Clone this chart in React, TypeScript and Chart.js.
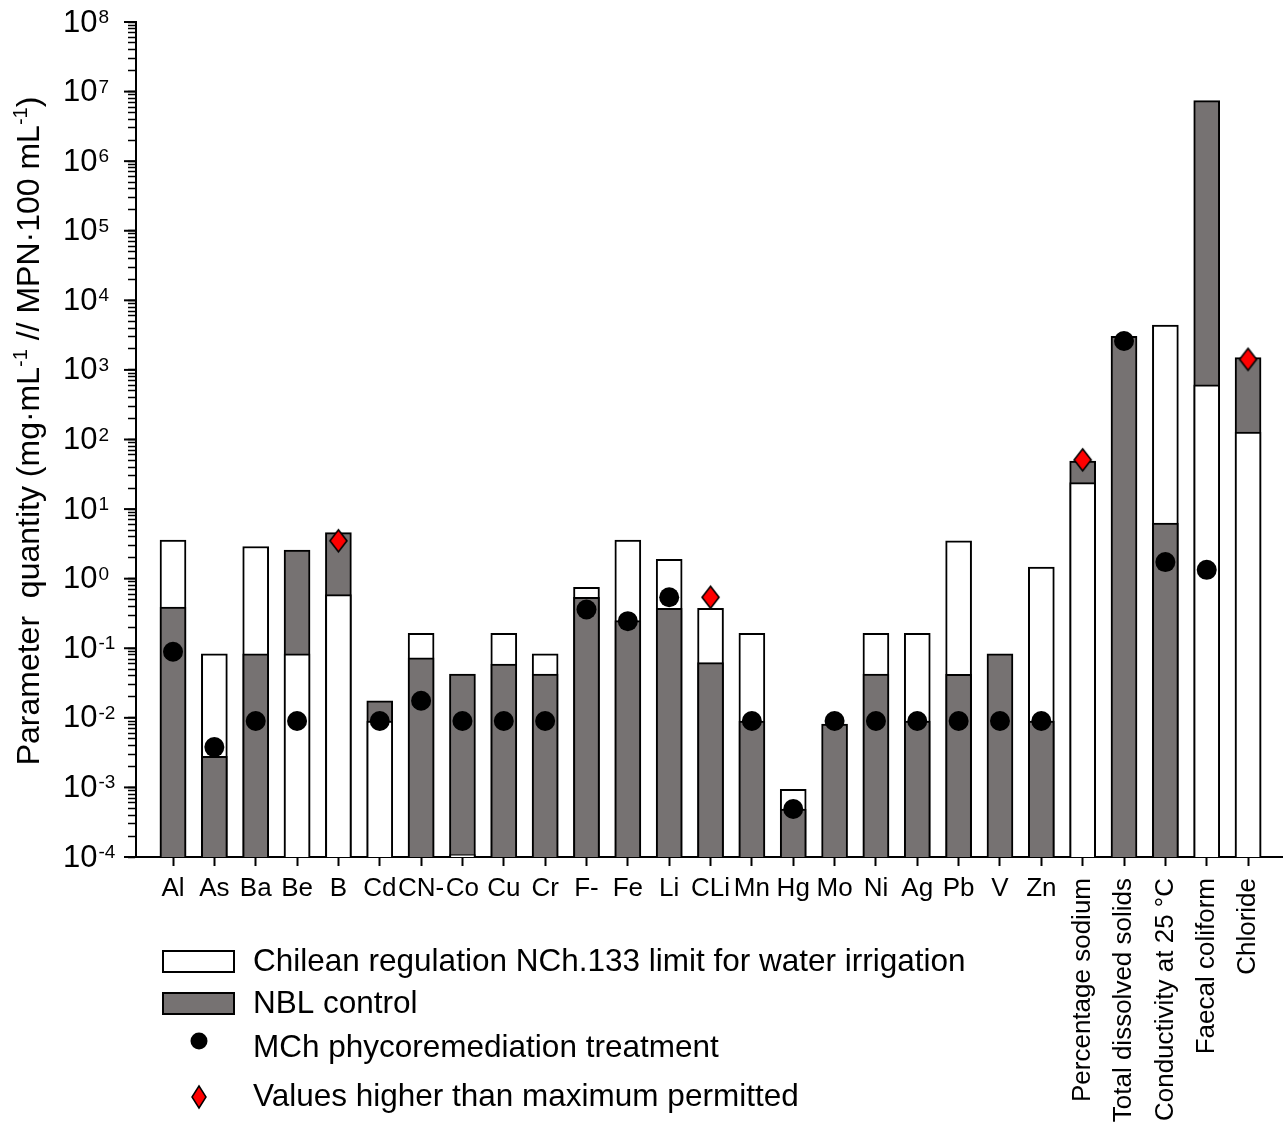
import React, { useEffect, useRef } from 'react';
import { Chart, registerables } from 'chart.js';

Chart.register(...registerables);

// ---------- data ----------
const categories = [
  'Al', 'As', 'Ba', 'Be', 'B', 'Cd', 'CN-', 'Co', 'Cu', 'Cr', 'F-', 'Fe', 'Li', 'CLi',
  'Mn', 'Hg', 'Mo', 'Ni', 'Ag', 'Pb', 'V', 'Zn',
  'Percentage sodium', 'Total dissolved solids', 'Conductivity at 25 °C', 'Faecal coliform', 'Chloride',
];

// Chilean regulation NCh.133 limit for water irrigation (white bars)
const limitValues: (number | null)[] = [
  3.6, 0.083, 2.9, 0.083, 0.59, 0.009, 0.164, 0.000108, 0.164, 0.083, 0.75, 3.6, 1.9, 0.375,
  0.164, 0.00094, null, 0.164, 0.164, 3.5, null, 1.47,
  24, null, 4400, 610, 128,
];

// NBL control (grey bars)
const nblValues: (number | null)[] = [
  0.39, 0.0028, 0.083, 2.58, 4.6, 0.0176, 0.073, 0.0427, 0.059, 0.0427, 0.54, 0.25, 0.375, 0.062,
  0.009, 0.00049, 0.0081, 0.0427, 0.009, 0.0423, 0.083, 0.009,
  49, 3030, 6.3, 7.4e6, 1510,
];

// MCh phycoremediation treatment (black dots)
const mchValues: (number | null)[] = [
  0.089, 0.0038, 0.009, 0.009, null, 0.009, 0.0176, 0.009, 0.009, 0.009, 0.36, 0.245, 0.54, null,
  0.009, 0.00049, 0.009, 0.009, 0.009, 0.009, 0.009, 0.009,
  null, 2600, 1.73, 1.34, null,
];

// Values higher than maximum permitted (red diamonds)
const exceedValues: (number | null)[] = [
  null, null, null, null, 3.5, null, null, null, null, null, null, null, null, 0.54,
  null, null, null, null, null, null, null, null,
  51, null, null, null, 1420,
];

const yTickExponents = [-4, -3, -2, -1, 0, 1, 2, 3, 4, 5, 6, 7, 8];

const legendLabels = [
  'Chilean regulation NCh.133 limit for water irrigation',
  'NBL control',
  'MCh phycoremediation treatment',
  'Values higher than maximum permitted',
];

// ---------- style ----------
const WHITE = '#ffffff';
const GRAY = '#767272';
const RED = '#ff0000';
const FONT = '"Liberation Sans", Arial, Helvetica, sans-serif';

function makeDiamond(hw: number, hh: number): HTMLCanvasElement {
  const c = document.createElement('canvas');
  c.width = hw * 2 + 4;
  c.height = hh * 2 + 4;
  const g = c.getContext('2d')!;
  const cx = c.width / 2, cy = c.height / 2;
  g.beginPath();
  g.moveTo(cx, cy - hh);
  g.lineTo(cx + hw, cy);
  g.lineTo(cx, cy + hh);
  g.lineTo(cx - hw, cy);
  g.closePath();
  g.fillStyle = RED;
  g.fill();
  g.lineWidth = 1.6;
  g.strokeStyle = '#000';
  g.stroke();
  return c;
}

const textPlugin = {
  id: 'customText',
  afterDraw(chart: any) {
    const ctx: CanvasRenderingContext2D = chart.ctx;
    const xs = chart.scales.x;
    const ys = chart.scales.y;
    ctx.save();
    ctx.fillStyle = '#000';
    ctx.strokeStyle = '#000';

    // major y ticks + labels 10^n
    for (const e of yTickExponents) {
      const y = ys.getPixelForValue(Math.pow(10, e));
      ctx.lineWidth = 2;
      ctx.beginPath();
      ctx.moveTo(124, y);
      ctx.lineTo(137, y);
      ctx.stroke();
      ctx.font = `31px ${FONT}`;
      ctx.textAlign = 'left';
      ctx.textBaseline = 'middle';
      ctx.fillText('10', 63, y + 1);
      const w = ctx.measureText('10').width;
      ctx.font = `19px ${FONT}`;
      ctx.textBaseline = 'alphabetic';
      ctx.fillText(String(e), 63 + w + 1, y + 1);
    }

    // y axis title (rotated, with superscripts)
    const parts: [string, boolean][] = [
      ['Parameter  quantity (mg·mL', false],
      ['-1', true],
      [' // MPN·100 mL', false],
      ['-1', true],
      [')', false],
    ];
    const mainF = `32px ${FONT}`;
    const supF = `20px ${FONT}`;
    let total = 0;
    for (const [t, s] of parts) {
      ctx.font = s ? supF : mainF;
      total += ctx.measureText(t).width;
    }
    ctx.save();
    ctx.translate(39, 431 + total / 2);
    ctx.rotate(-Math.PI / 2);
    ctx.textAlign = 'left';
    ctx.textBaseline = 'alphabetic';
    let px = 0;
    for (const [t, s] of parts) {
      ctx.font = s ? supF : mainF;
      ctx.fillText(t, px, s ? -12 : 0);
      px += ctx.measureText(t).width;
    }
    ctx.restore();

    // x category labels
    ctx.font = `26px ${FONT}`;
    categories.forEach((lab, i) => {
      const x = xs.getPixelForValue(i);
      if (lab.length > 4) {
        ctx.save();
        ctx.translate(x, 878);
        ctx.rotate(-Math.PI / 2);
        ctx.textAlign = 'right';
        ctx.textBaseline = 'middle';
        ctx.fillText(lab, 0, 0);
        ctx.restore();
      } else {
        ctx.textAlign = 'center';
        ctx.textBaseline = 'middle';
        ctx.fillText(lab, x, 889);
      }
    });

    // legend
    ctx.lineWidth = 2;
    ctx.fillStyle = WHITE;
    ctx.fillRect(163, 951, 71, 21);
    ctx.strokeRect(163, 951, 71, 21);
    ctx.fillStyle = GRAY;
    ctx.fillRect(163, 993, 71, 21);
    ctx.strokeRect(163, 993, 71, 21);
    ctx.fillStyle = '#000';
    ctx.beginPath();
    ctx.arc(199, 1041, 8.5, 0, Math.PI * 2);
    ctx.fill();
    ctx.beginPath();
    ctx.moveTo(199, 1086);
    ctx.lineTo(206, 1097);
    ctx.lineTo(199, 1108);
    ctx.lineTo(192, 1097);
    ctx.closePath();
    ctx.fillStyle = RED;
    ctx.fill();
    ctx.lineWidth = 1.5;
    ctx.stroke();

    ctx.fillStyle = '#000';
    ctx.font = `31.5px ${FONT}`;
    ctx.textAlign = 'left';
    ctx.textBaseline = 'middle';
    const ly = [962, 1004, 1048, 1097];
    legendLabels.forEach((t, i) => ctx.fillText(t, 253, ly[i]));

    ctx.restore();
  },
};

export default function App() {
  const ref = useRef<HTMLCanvasElement>(null);

  useEffect(() => {
    if (!ref.current) return;

    const backData = categories.map((_, i) => {
      const l = limitValues[i], n = nblValues[i];
      const vals = [l, n].filter((v) => v != null) as number[];
      return { x: i, y: vals.length ? Math.max(...vals) : null };
    });
    const backColors = categories.map((_, i) => {
      const l = limitValues[i], n = nblValues[i];
      if (l == null) return GRAY;
      if (n == null) return WHITE;
      return l >= n ? WHITE : GRAY;
    });
    const frontData = categories.map((_, i) => {
      const l = limitValues[i], n = nblValues[i];
      return { x: i, y: l != null && n != null ? Math.min(l, n) : null };
    });
    const frontColors = categories.map((_, i) => {
      const l = limitValues[i], n = nblValues[i];
      return l != null && n != null && l < n ? WHITE : GRAY;
    });

    const diamond = makeDiamond(8.5, 11);

    const chart = new Chart(ref.current, {
      type: 'bar',
      data: {
        datasets: [
          {
            type: 'scatter',
            label: legendLabels[2],
            data: mchValues.map((v, i) => ({ x: i, y: v })),
            pointStyle: 'circle',
            pointRadius: 10,
            backgroundColor: '#000',
            borderColor: '#000',
            borderWidth: 0,
            order: 0,
          } as any,
          {
            type: 'scatter',
            label: legendLabels[3],
            data: exceedValues.map((v, i) => ({ x: i, y: v })),
            pointStyle: diamond,
            pointRadius: 11,
            order: 1,
          } as any,
          {
            type: 'bar',
            label: 'front',
            data: frontData,
            backgroundColor: frontColors,
            borderColor: '#000',
            borderWidth: 2,
            grouped: false,
            barThickness: 26,
            order: 2,
          } as any,
          {
            type: 'bar',
            label: 'back',
            data: backData,
            backgroundColor: backColors,
            borderColor: '#000',
            borderWidth: 2,
            grouped: false,
            barThickness: 26,
            order: 3,
          } as any,
        ],
      },
      options: {
        animation: false,
        responsive: false,
        maintainAspectRatio: false,
        layout: { autoPadding: false, padding: { top: 22, left: 0, right: 0, bottom: 0 } },
        plugins: { legend: { display: false }, tooltip: { enabled: false } },
        scales: {
          x: {
            type: 'linear',
            min: -0.895,
            max: 26.845,
            offset: false,
            grid: {
              display: true,
              drawOnChartArea: false,
              drawTicks: true,
              tickLength: 9,
              tickWidth: 2,
              tickColor: '#000',
              offset: false,
            },
            border: { display: true, color: '#000', width: 2 },
            ticks: { display: false },
            afterBuildTicks: (s: any) => {
              s.ticks = categories.map((_, i) => ({ value: i }));
            },
            afterFit: (s: any) => {
              s.height = 268;
            },
          },
          y: {
            type: 'logarithmic',
            min: 1e-4,
            max: 1e8,
            grid: {
              display: true,
              drawOnChartArea: false,
              drawTicks: true,
              tickLength: 8,
              tickWidth: 1.5,
              tickColor: '#000',
            },
            border: { display: true, color: '#000', width: 2 },
            ticks: { display: false },
            afterBuildTicks: (s: any) => {
              const t: any[] = [];
              for (const e of yTickExponents) {
                t.push({ value: Math.pow(10, e), major: true });
                if (e < 8) for (let m = 2; m <= 9; m++) t.push({ value: m * Math.pow(10, e) });
              }
              s.ticks = t;
            },
            afterFit: (s: any) => {
              s.width = 136;
            },
          },
        },
      } as any,
      plugins: [textPlugin],
    });

    return () => chart.destroy();
  }, []);

  return (
    <div style={{ position: 'absolute', left: 0, top: 0, width: 1283, height: 1125, background: '#fff' }}>
      <canvas ref={ref} width={1283} height={1125} style={{ width: 1283, height: 1125, display: 'block' }} />
    </div>
  );
}
